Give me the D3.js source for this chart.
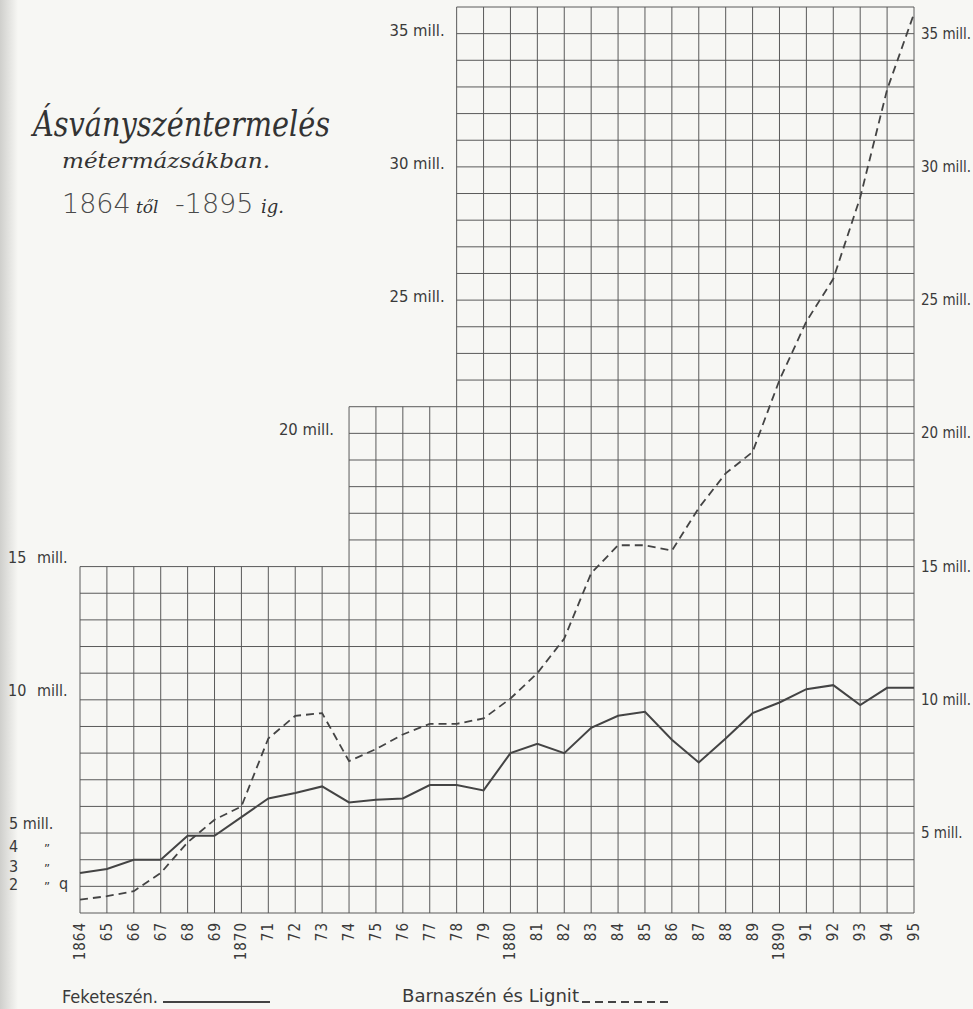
<!DOCTYPE html>
<html>
<head>
<meta charset="utf-8">
<script src="https://cdn.jsdelivr.net/npm/d3@7"></script>
<style>
  body { margin: 0; background: #f7f7f4; }
  svg { display: block; }
  .lbl { font-family: "DejaVu Sans Condensed", "Liberation Sans Narrow", sans-serif; fill: #3a3a3a; }
  .script { font-family: "DejaVu Serif", "Liberation Serif", serif; font-style: italic; fill: #333; }
</style>
</head>
<body>
<svg id="chart" width="973" height="1009"></svg>
<script>
// years 1864..1895
var years = d3.range(1864, 1896);
var yearLabels = ["1864", "65", "66", "67", "68", "69", "1870", "71", "72", "73", "74", "75", "76", "77", "78", "79",
    "1880", "81", "82", "83", "84", "85", "86", "87", "88", "89", "1890", "91", "92", "93", "94", "95"];

// Feketeszén (solid), millió métermázsa
var feketeszen = [3.5, 3.65, 4.0, 4.0, 4.9, 4.9, 5.6, 6.3, 6.5, 6.75, 6.15, 6.25, 6.3, 6.8, 6.8, 6.6,
    8.0, 8.35, 8.0, 8.95, 9.4, 9.55, 8.5, 7.65, 8.55, 9.5, 9.9, 10.4, 10.55, 9.8, 10.45, 10.45];

// Barnaszén és Lignit (dashed)
var barnaszen = [2.5, 2.63, 2.82, 3.5, 4.65, 5.5, 6.0, 8.55, 9.4, 9.5, 7.7, 8.15, 8.7, 9.1, 9.1, 9.3,
    10.05, 11.0, 12.3, 14.75, 15.8, 15.8, 15.6, 17.2, 18.5, 19.3, 22.0, 24.2, 25.8, 28.85, 32.9, 35.75];

// stepped grid: block start year and the top value of each block
var blockStarts = [1864, 1874, 1878];
var blockTops = [15, 21, 36];

var midTicks = [35, 30, 25, 20];
var leftTicks = [15, 10];
var rightTicks = [35, 30, 25, 20, 15, 10, 5];

var svg = d3.select("#chart");

var x = d3.scaleLinear().domain([1864, 1895]).range([80, 914]);
var y = d3.scaleLinear().domain([2, 36]).range([913, 7]);

function topForYear(yr) {
    var t = blockTops[0];
    blockStarts.forEach((s, i) => { if (yr >= s) t = blockTops[i]; });
    return t;
}
function startForValue(v) {
    for (var i = 0; i < blockTops.length; i++) {
        if (v <= blockTops[i]) return blockStarts[i];
    }
    return blockStarts[blockStarts.length - 1];
}

// left edge shading of the scanned page
var defs = svg.append("defs");
var grad = defs.append("linearGradient").attr("id", "edge");
grad.append("stop").attr("offset", "0%").attr("stop-color", "#cfcfcc");
grad.append("stop").attr("offset", "100%").attr("stop-color", "#f7f7f4");
svg.append("rect").attr("width", 18).attr("height", 1009).attr("fill", "url(#edge)");

var grid = svg.append("g").attr("stroke", "#5a5a5a").attr("stroke-width", 1).attr("fill", "none");

grid.selectAll(".hline")
    .data(d3.range(2, 37))
    .enter()
    .append("line")
    .attr("x1", v => x(startForValue(v)))
    .attr("x2", x(1895))
    .attr("y1", v => y(v))
    .attr("y2", v => y(v));

grid.selectAll(".vline")
    .data(years)
    .enter()
    .append("line")
    .attr("x1", yr => x(yr))
    .attr("x2", yr => x(yr))
    .attr("y1", y(2))
    .attr("y2", yr => y(topForYear(yr)));

// data lines
var line = d3.line()
    .x((d, i) => x(years[i]))
    .y(d => y(d));

svg.append("path")
    .datum(barnaszen)
    .attr("d", line)
    .attr("fill", "none")
    .attr("stroke", "#444")
    .attr("stroke-width", 1.8)
    .attr("stroke-dasharray", "8,5");

svg.append("path")
    .datum(feketeszen)
    .attr("d", line)
    .attr("fill", "none")
    .attr("stroke", "#444")
    .attr("stroke-width", 2);

// x labels, rotated
svg.selectAll(".xl")
    .data(years)
    .enter()
    .append("text")
    .attr("class", "lbl")
    .attr("font-size", 15)
    .attr("letter-spacing", 1)
    .attr("text-anchor", "end")
    .attr("transform", yr => "translate(" + (x(yr) + 5) + ",922) rotate(-90)")
    .text((yr, i) => yearLabels[i]);

// value labels
svg.selectAll(".ml")
    .data(midTicks)
    .enter()
    .append("text")
    .attr("class", "lbl")
    .attr("font-size", 16.5)
    .attr("text-anchor", "end")
    .attr("x", v => v === 20 ? x(1874) - 15 : x(1878) - 12)
    .attr("y", v => y(v) + 2)
    .text(v => v + " mill.");

svg.selectAll(".ll")
    .data(leftTicks)
    .enter()
    .append("text")
    .attr("class", "lbl")
    .attr("font-size", 16)
    .attr("x", 8)
    .attr("y", v => y(v) - 4)
    .attr("word-spacing", 6)
    .text(v => v + " mill.");

svg.selectAll(".rl")
    .data(rightTicks)
    .enter()
    .append("text")
    .attr("class", "lbl")
    .attr("font-size", 15)
    .attr("x", x(1895) + 7)
    .attr("y", v => y(v) + 5)
    .text(v => v + " mill.");

// small left scale 5,4,3,2
var smallTicks = [["5 mill.", 829], ["4", 852], ["3", 872], ["2", 890]];
svg.selectAll(".sl")
    .data(smallTicks)
    .enter()
    .append("text")
    .attr("class", "lbl")
    .attr("font-size", 16)
    .attr("x", 9)
    .attr("y", d => d[1])
    .text(d => d[0]);
svg.selectAll(".sq")
    .data([852, 872, 890])
    .enter()
    .append("text")
    .attr("class", "lbl")
    .attr("font-size", 13)
    .attr("x", 44)
    .attr("y", d => d + 1)
    .text("\u201D");
svg.append("text").attr("class", "lbl").attr("font-size", 16).attr("x", 59).attr("y", 889).text("q");

// title
svg.append("text")
    .attr("class", "script")
    .attr("x", 33).attr("y", 136)
    .attr("font-size", 36)
    .attr("textLength", 297)
    .attr("lengthAdjust", "spacingAndGlyphs")
    .text("Ásványszéntermelés");

svg.append("text")
    .attr("class", "script")
    .attr("x", 62).attr("y", 168)
    .attr("font-size", 20)
    .attr("textLength", 208)
    .attr("lengthAdjust", "spacingAndGlyphs")
    .text("métermázsákban.");

var sub = svg.append("text").attr("y", 213).attr("fill", "#4a4a4a");
sub.append("tspan").attr("x", 62).attr("font-family", "DejaVu Sans, sans-serif").attr("font-size", 27).attr("font-weight", 200).text("1864");
sub.append("tspan").attr("x", 136).attr("class", "script").attr("font-size", 17).text("től");
sub.append("tspan").attr("x", 175).attr("font-family", "DejaVu Sans, sans-serif").attr("font-size", 27).attr("font-weight", 200).text("-1895");
sub.append("tspan").attr("x", 261).attr("class", "script").attr("font-size", 18).text("ig.");

// legend
svg.append("text").attr("class", "lbl").attr("font-size", 18).attr("x", 62).attr("y", 1003)
    .attr("textLength", 96).attr("lengthAdjust", "spacingAndGlyphs").text("Feketeszén.");
svg.append("line").attr("x1", 163).attr("x2", 270).attr("y1", 1002).attr("y2", 1002)
    .attr("stroke", "#444").attr("stroke-width", 1.8);
svg.append("text").attr("class", "lbl").attr("font-size", 18).attr("x", 402).attr("y", 1002)
    .attr("textLength", 177).attr("lengthAdjust", "spacingAndGlyphs").text("Barnaszén és Lignit");
svg.append("line").attr("x1", 582).attr("x2", 672).attr("y1", 1002).attr("y2", 1002)
    .attr("stroke", "#444").attr("stroke-width", 1.8).attr("stroke-dasharray", "8,5");
</script>
</body>
</html>
